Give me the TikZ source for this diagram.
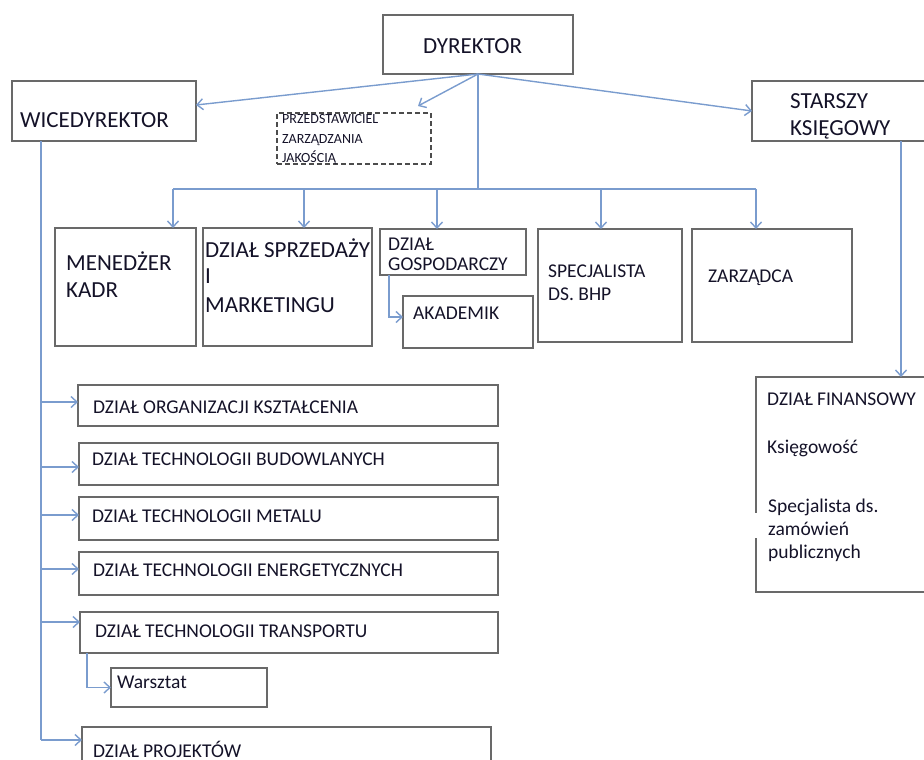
\documentclass[tikz,border=0pt]{standalone}
\usepackage{fontspec}
\setmainfont{Carlito}
\usetikzlibrary{arrows.meta}
\definecolor{boxgray}{RGB}{105,105,105}
\definecolor{conn}{RGB}{122,156,206}
\definecolor{ink}{RGB}{20,18,40}
\tikzset{
  box/.style={draw=boxgray, line width=1.5pt, rectangle, inner sep=0pt, outer sep=0pt, anchor=north west},
  dbox/.style={box, draw=black!70, dash pattern=on 5pt off 3pt},
  link/.style={draw=conn, line width=1.4pt},
  arr/.style={link, -{Straight Barb[length=6pt,width=11pt]}},
  tL/.style={anchor=base west, inner sep=0pt, text=ink, font=\fontsize{23}{27}\selectfont},
  tM/.style={anchor=base west, inner sep=0pt, text=ink, font=\fontsize{19.5}{23}\selectfont},
  tS/.style={anchor=base west, inner sep=0pt, text=ink, font=\fontsize{14}{17}\selectfont},
}
\newcommand{\mybox}[6][box]{\node[#1, minimum width={#5-#3}, minimum height={#6-#4}] (#2) at (#3,#4) {};}
\begin{document}
\begin{tikzpicture}[x=1pt,y=-1pt]
\useasboundingbox (0,0) rectangle (924,760);
% boxes
\mybox{dyr}{383}{15}{573}{74}
\mybox{wice}{12}{81}{196}{141}
\mybox{star}{752}{81}{940}{141}
\mybox[dbox]{prz}{277}{113}{431}{164}
\mybox{mened}{55}{228}{196}{346}
\mybox{sprz}{203}{228}{372}{346}
\mybox{gosp}{380}{229}{526}{275}
\mybox{akad}{403}{296}{533}{348}
\mybox{bhp}{538}{229}{682}{342}
\mybox{zarz}{692}{229}{852}{342}
\mybox{fin}{756}{377}{940}{592}
\fill[white] (753,513) rectangle (759,538);
\mybox{o1}{78}{385}{498}{426}
\mybox{o2}{79}{443}{498}{485}
\mybox{o3}{79}{497}{498}{540}
\mybox{o4}{79}{552}{498}{595}
\mybox{tr}{80}{612}{498}{653}
\mybox{wars}{111}{668}{267}{707}
\mybox{proj}{82}{727}{491}{775}
% texts
\node[tL] (t1) at (423,54) {DYREKTOR};
\node[tL] (t2) at (20,128) {WICEDYREKTOR};
\node[tL] (t3) at (790,109) {STARSZY};
\node[tL] (t4) at (790,135) {KSIĘGOWY};
\node[tS] (t5) at (282,124) {PRZEDSTAWICIEL};
\node[tS] (t6) at (282,143) {ZARZĄDZANIA};
\node[tS] (t7) at (282,162) {JAKOŚCIĄ};
\node[tL] (t8) at (66,270) {MENEDŻER};
\node[tL] (t9) at (66,297) {KADR};
\node[tL] (t10) at (205,257) {DZIAŁ SPRZEDAŻY};
\node[tL] (t11) at (205,283) {I};
\node[tL] (t12) at (205,312) {MARKETINGU};
\node[tM] (t13) at (388,250) {DZIAŁ};
\node[tM] (t14) at (388,270) {GOSPODARCZY};
\node[tM] (t15) at (413,319) {AKADEMIK};
\node[tM] (t16) at (548,277) {SPECJALISTA};
\node[tM] (t17) at (548,300) {DS. BHP};
\node[tM] (t18) at (708,282) {ZARZĄDCA};
\node[tM] (t19) at (767,405) {DZIAŁ FINANSOWY};
\node[tM] (t20) at (767,453) {Księgowość};
\node[tM] (t21) at (768,512) {Specjalista ds.};
\node[tM] (t22) at (768,535) {zamówień};
\node[tM] (t23) at (768,558) {publicznych};
\node[tM] (t24) at (93,413) {DZIAŁ ORGANIZACJI KSZTAŁCENIA};
\node[tM] (t25) at (92,465) {DZIAŁ TECHNOLOGII BUDOWLANYCH};
\node[tM] (t26) at (92,522) {DZIAŁ TECHNOLOGII METALU};
\node[tM] (t27) at (93,576) {DZIAŁ TECHNOLOGII ENERGETYCZNYCH};
\node[tM] (t28) at (95,637) {DZIAŁ TECHNOLOGII TRANSPORTU};
\node[tM] (t29) at (117,688) {Warsztat};
\node[tM] (t30) at (93,757) {DZIAŁ PROJEKTÓW};
% connectors from director
\draw[arr] (dyr.south) -- ([yshift=6pt]wice.east);
\draw[arr] (dyr.south) -- ([xshift=-13pt,yshift=7pt]prz.north east);
\draw[arr] (dyr.south) -- (star.west);
\coordinate (b1) at (173,189);
\coordinate (b2) at (304,189);
\coordinate (b3) at (437,189);
\coordinate (b4) at (601,189);
\coordinate (b5) at (756,189);
\draw[link] (dyr.south) -- (dyr.south |- b1);
\draw[link] (b1) -- (b5);
\draw[arr] (b1) -- (b1 |- mened.north);
\draw[arr] (b2) -- (b2 |- sprz.north);
\draw[arr] (b3) -- (b3 |- gosp.north);
\draw[arr] (b4) -- (b4 |- bhp.north);
\draw[arr] (b5) -- (b5 |- zarz.north);
\draw[arr] ([xshift=9pt]gosp.south west) |- ([yshift=5pt]akad.west);
% chief accountant
\draw[arr] ([xshift=149pt]star.south west) coordinate (s1) -- (s1 |- fin.north);
% deputy director
\draw[link] ([xshift=29pt]wice.south west) coordinate (w0) -- (w0 |- 0,740);
\draw[arr] (w0 |- 0,402) -- (o1.west |- 0,402);
\draw[arr] (w0 |- 0,467) -- (o2.west |- 0,467);
\draw[arr] (w0 |- 0,515) -- (o3.west |- 0,515);
\draw[arr] (w0 |- 0,569) -- (o4.west |- 0,569);
\draw[arr] (w0 |- 0,622) -- (tr.west |- 0,622);
\draw[arr] (w0 |- 0,740) -- (proj.west |- 0,740);
\draw[arr] ([xshift=7pt]tr.south west) |- (wars.west);
\end{tikzpicture}
\end{document}
